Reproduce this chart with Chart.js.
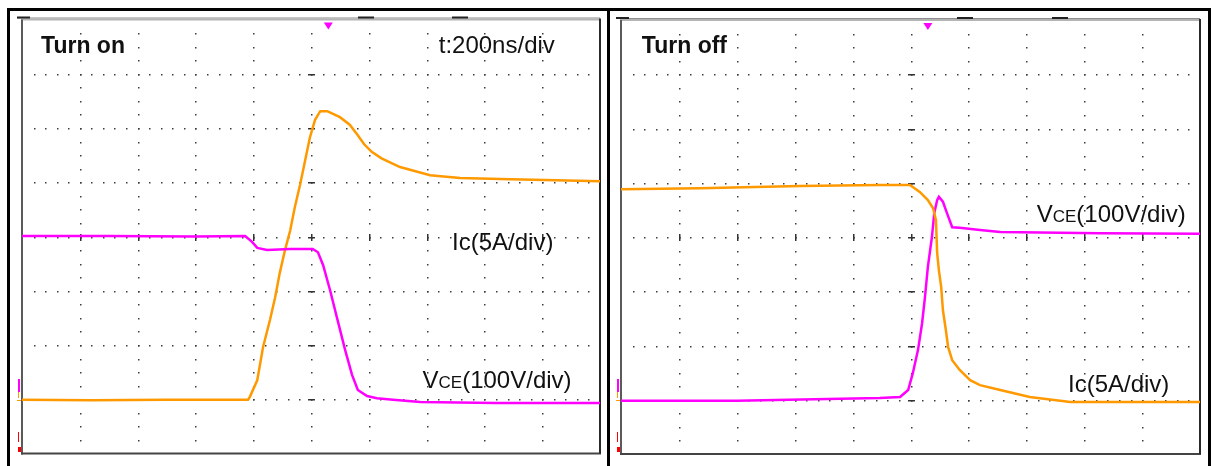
<!DOCTYPE html>
<html>
<head>
<meta charset="utf-8">
<script src="https://cdn.jsdelivr.net/npm/chart.js@4"></script>
<style>
  html, body { margin: 0; padding: 0; background: #fff; }
  body { width: 1212px; height: 466px; position: relative; overflow: hidden; }
  #frame { position: absolute; left: 7px; top: 8px; width: 1198px; height: 520px; border: 3px solid #000; }
  #mid { position: absolute; left: 607px; top: 8px; width: 3px; height: 520px; background: #000; }
  .panel { position: absolute; top: 0; width: 606px; height: 466px; }
</style>
</head>
<body>
<div id="frame"></div>
<div id="mid"></div>
<div class="panel" style="left:0px"><canvas id="turnOn"></canvas></div>
<div class="panel" style="left:600px"><canvas id="turnOff"></canvas></div>
<script>
// time in divisions (200ns/div), level in divisions from bottom of screen
const onVceTime = [0, 1.2, 2.5, 3.91, 3.94, 4.07, 4.17, 4.29, 4.38, 4.46, 4.55, 4.64, 4.72, 4.81, 4.90, 4.98, 5.07, 5.16, 5.28, 5.50, 5.67, 5.80, 5.92, 6.05, 6.22, 6.54, 7.06, 7.58, 8.27, 10];
const onVce     = [0.99, 0.98, 0.99, 0.99, 1.04, 1.35, 1.96, 2.46, 2.88, 3.33, 3.75, 4.11, 4.54, 4.95, 5.41, 5.82, 6.15, 6.31, 6.31, 6.20, 6.06, 5.88, 5.70, 5.56, 5.44, 5.28, 5.13, 5.08, 5.06, 5.02];
const onIcTime  = [0, 1.5, 3.0, 3.86, 3.98, 4.07, 4.24, 4.64, 5.03, 5.12, 5.21, 5.33, 5.45, 5.59, 5.71, 5.81, 5.97, 6.14, 6.42, 6.89, 8.2, 10];
const onIc      = [4.01, 4.01, 4.0, 4.01, 3.90, 3.79, 3.75, 3.77, 3.77, 3.71, 3.47, 3.01, 2.50, 1.91, 1.45, 1.17, 1.06, 1.02, 0.99, 0.95, 0.93, 0.93];

const offVceTime = [0, 1.36, 3.09, 4.47, 4.99, 5.16, 5.30, 5.39, 5.44, 5.46, 5.49, 5.53, 5.56, 5.61, 5.65, 5.72, 5.85, 6.03, 6.20, 6.55, 7.06, 7.76, 10];
const offVce     = [4.88, 4.90, 4.94, 4.96, 4.96, 4.83, 4.68, 4.53, 4.31, 3.71, 3.39, 3.08, 2.65, 2.29, 1.97, 1.73, 1.55, 1.36, 1.27, 1.18, 1.05, 0.96, 0.96];
const offIcTime  = [0, 2.0, 4.47, 4.82, 4.96, 5.04, 5.13, 5.20, 5.25, 5.30, 5.37, 5.41, 5.46, 5.49, 5.56, 5.63, 5.72, 5.85, 6.20, 6.55, 8.27, 10];
const offIc      = [0.98, 0.98, 1.03, 1.05, 1.18, 1.49, 1.92, 2.41, 2.89, 3.45, 4.00, 4.44, 4.68, 4.74, 4.65, 4.44, 4.18, 4.17, 4.13, 4.09, 4.07, 4.06];

const orange = "rgb(255,153,0)";
const magenta = "rgb(255,0,255)";

function pts(xs, ys) {
  return xs.map((t, i) => ({ x: t, y: ys[i] }));
}

// oscilloscope graticule: dotted grid, centre ticks, frame, markers
const scopeGrid = {
  id: "scopeGrid",
  beforeDatasetsDraw(chart) {
    const { ctx, chartArea: a, scales: { x, y } } = chart;
    ctx.save();
    ctx.fillStyle = "#3c3c3c";
    for (let i = 1; i < 10; i++) {
      const px = Math.round(x.getPixelForValue(i));
      for (let j = 1; j < 32; j++) {
        ctx.fillRect(px, Math.round(y.getPixelForValue(j / 4)), 1.5, 1.5);
      }
    }
    for (let k = 1; k < 8; k++) {
      const py = Math.round(y.getPixelForValue(k));
      for (let j = 1; j < 50; j++) {
        ctx.fillRect(Math.round(x.getPixelForValue(j / 5)), py, 1.5, 1.5);
      }
    }
    // centre axis ticks
    ctx.fillStyle = "#333";
    const cx = Math.round(x.getPixelForValue(5));
    const cy = Math.round(y.getPixelForValue(4));
    for (let k = 1; k < 8; k++) {
      ctx.fillRect(cx - 3, Math.round(y.getPixelForValue(k)), 7, 1.5);
    }
    for (let i = 1; i < 10; i++) {
      ctx.fillRect(Math.round(x.getPixelForValue(i)), cy - 3, 1.5, 7);
    }
    // frame
    const w = a.right - a.left;
    ctx.fillStyle = "#8c8c8c";
    ctx.fillRect(a.left - 5, a.top - 2, w + 5, 1);
    ctx.fillStyle = "#b4b4b4";
    ctx.fillRect(a.left - 1, a.top - 1, w + 1, 2);
    ctx.fillStyle = "#5a5a5a";
    ctx.fillRect(a.left - 1, a.top, 2, a.bottom - a.top + 1);
    ctx.fillStyle = "#444";
    ctx.fillRect(a.left - 1, a.bottom - 1, w + 2, 2);
    ctx.fillStyle = "#2a2a2a";
    ctx.fillRect(a.right - 1, a.top - 1, 2, a.bottom - a.top + 1);
    // top markers
    ctx.fillStyle = "#222";
    ctx.fillRect(a.left - 5, a.top - 3, 13, 2);
    ctx.fillRect(Math.round(x.getPixelForValue(5.81)), a.top - 3, 16, 2);
    ctx.fillRect(Math.round(x.getPixelForValue(7.44)), a.top - 3, 16, 2);
    const tx = x.getPixelForValue(5.3);
    ctx.fillStyle = magenta;
    ctx.beginPath();
    ctx.moveTo(tx - 4.5, a.top + 3);
    ctx.lineTo(tx + 4.5, a.top + 3);
    ctx.lineTo(tx, a.top + 10);
    ctx.closePath();
    ctx.fill();
    // channel markers on left edge
    const gy = Math.round(y.getPixelForValue(0.99));
    ctx.fillStyle = magenta;
    ctx.fillRect(a.left - 4, gy - 21, 2, 13);
    ctx.fillStyle = orange;
    ctx.fillRect(a.left - 5, gy, 4, 1);
    ctx.fillRect(a.left - 4, gy - 8, 1, 6);
    ctx.fillStyle = "red";
    ctx.fillRect(a.left - 4, gy + 32, 1, 10);
    ctx.fillRect(a.left - 4, gy + 47, 3, 5);
    ctx.restore();
  },
  afterDatasetsDraw(chart, args, opts) {
    const { ctx, scales: { x, y } } = chart;
    ctx.save();
    ctx.fillStyle = "#111";
    ctx.textBaseline = "alphabetic";
    ctx.textAlign = "left";
    (opts.labels || []).forEach(l => {
      let px = x.getPixelForValue(l.x);
      const py = y.getPixelForValue(l.y);
      l.parts.forEach(p => {
        ctx.font = (p.bold ? "bold " : "") + p.size + "px 'Liberation Sans', Arial, sans-serif";
        ctx.fillText(p.text, px, py);
        px += ctx.measureText(p.text).width;
      });
    });
    ctx.restore();
  }
};

function scope(id, datasets, labels, pad) {
  return new Chart(document.getElementById(id), {
    type: "line",
    data: { datasets: datasets },
    options: {
      responsive: true,
      maintainAspectRatio: false,
      animation: false,
      layout: { padding: pad },
      plugins: { legend: { display: false }, tooltip: { enabled: false }, scopeGrid: { labels: labels } },
      elements: { point: { radius: 0 }, line: { borderWidth: 2.5, tension: 0 } },
      scales: {
        x: { type: "linear", min: 0, max: 10, display: false },
        y: { type: "linear", min: 0, max: 8, display: false }
      }
    },
    plugins: [scopeGrid]
  });
}

const vceParts = [
  { text: "V", size: 24 },
  { text: "CE", size: 17 },
  { text: "(100V/div)", size: 24 }
];

scope("turnOn", [
  { label: "Ic", data: pts(onIcTime, onIc), borderColor: magenta },
  { label: "VCE", data: pts(onVceTime, onVce), borderColor: orange }
], [
  { x: 0.33, y: 7.38, parts: [{ text: "Turn on", size: 23, bold: true }] },
  { x: 7.21, y: 7.38, parts: [{ text: "t:200ns/div", size: 24 }] },
  { x: 7.44, y: 3.75, parts: [{ text: "Ic(5A/div)", size: 24 }] },
  { x: 6.93, y: 1.21, parts: vceParts }
], { left: 22, right: 6, top: 19.5, bottom: 12.5 });

scope("turnOff", [
  { label: "VCE", data: pts(offVceTime, offVce), borderColor: orange },
  { label: "Ic", data: pts(offIcTime, offIc), borderColor: magenta }
], [
  { x: 0.36, y: 7.39, parts: [{ text: "Turn off", size: 23, bold: true }] },
  { x: 7.18, y: 4.28, parts: vceParts },
  { x: 7.72, y: 1.15, parts: [{ text: "Ic(5A/div)", size: 24 }] }
], { left: 21, right: 6, top: 20, bottom: 12 });
</script>
</body>
</html>
